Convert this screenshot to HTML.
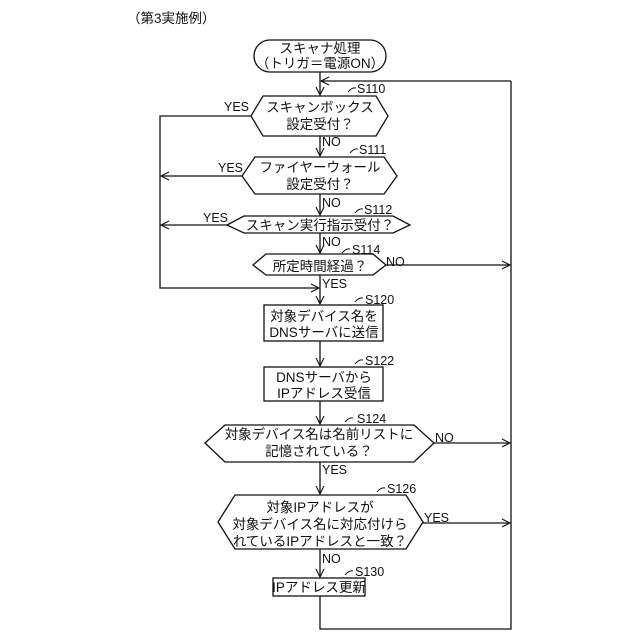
<!DOCTYPE html>
<html><head><meta charset="utf-8"><style>
html,body{margin:0;padding:0;background:#fff}
svg{display:block}
text{font-family:"Liberation Sans","Noto Sans CJK JP",sans-serif;font-size:13.5px;fill:#111}
.s{font-size:12.5px}
</style></head><body>
<svg width="640" height="640" viewBox="0 0 640 640" xmlns="http://www.w3.org/2000/svg">
<defs><marker id="a" markerWidth="10" markerHeight="10" refX="9" refY="5" orient="auto" markerUnits="userSpaceOnUse"><path d="M1,1 L9,5 L1,9" fill="none" stroke="#111" stroke-width="1.1"/></marker></defs>
<g fill="none" stroke="#111" stroke-width="1.3">
<rect x="254" y="40" width="132" height="32" rx="16"/>
<polygon points="251,116 263,96 376,96 388,116 376,136 263,136"/>
<polygon points="242,176 255,157 384,157 397,176 384,194 255,194"/>
<polygon points="227,225 244,216 393,216 410,225 393,233 244,233"/>
<polygon points="253,265 266,254 373,254 386,265 373,275 266,275"/>
<rect x="264" y="305" width="119" height="36"/>
<rect x="264" y="367" width="119" height="34"/>
<polygon points="205,443 225,425 414,425 434,443 414,462 225,462"/>
<polygon points="218,522 235,495 406,495 423,522 406,549 235,549"/>
<rect x="273" y="578" width="92" height="18"/>
<path d="M320,72V95" marker-end="url(#a)"/>
<path d="M511,81H321" marker-end="url(#a)"/>
<path d="M320,136V156" marker-end="url(#a)"/>
<path d="M320,194V215" marker-end="url(#a)"/>
<path d="M320,233V253" marker-end="url(#a)"/>
<path d="M320,275V304" marker-end="url(#a)"/>
<path d="M320,341V366" marker-end="url(#a)"/>
<path d="M320,401V424" marker-end="url(#a)"/>
<path d="M320,462V494" marker-end="url(#a)"/>
<path d="M320,549V577" marker-end="url(#a)"/>
<path d="M251,116H160V288H319" marker-end="url(#a)"/>
<path d="M242,176H161" marker-end="url(#a)"/>
<path d="M227,225H161" marker-end="url(#a)"/>
<path d="M386,265H510" marker-end="url(#a)"/>
<path d="M434,443H510" marker-end="url(#a)"/>
<path d="M423,523H510" marker-end="url(#a)"/>
<path d="M320,596V629H511V81"/>
<path d="M348,92q4,-5 8,-4" stroke-width="1"/>
<path d="M350,153q4,-5 8,-4" stroke-width="1"/>
<path d="M355,213q4,-5 8,-4" stroke-width="1"/>
<path d="M342,253q4,-5 8,-4" stroke-width="1"/>
<path d="M355,302q4,-5 8,-4" stroke-width="1"/>
<path d="M355,364q4,-5 8,-4" stroke-width="1"/>
<path d="M345,422q4,-5 8,-4" stroke-width="1"/>
<path d="M377,492q4,-5 8,-4" stroke-width="1"/>
<path d="M345,575q4,-5 8,-4" stroke-width="1"/>
</g>
<text x="127" y="23">（第3実施例）</text>
<text x="320" y="53" text-anchor="middle">スキャナ処理</text>
<text x="320" y="68" text-anchor="middle">（トリガ＝電源ON）</text>
<text x="320" y="112" text-anchor="middle">スキャンボックス</text>
<text x="320" y="129" text-anchor="middle">設定受付？</text>
<text x="320" y="172" text-anchor="middle">ファイヤーウォール</text>
<text x="320" y="189" text-anchor="middle">設定受付？</text>
<text x="320" y="230" text-anchor="middle">スキャン実行指示受付？</text>
<text x="320" y="271" text-anchor="middle">所定時間経過？</text>
<text x="324" y="321" text-anchor="middle">対象デバイス名を</text>
<text x="324" y="337" text-anchor="middle">DNSサーバに送信</text>
<text x="324" y="382" text-anchor="middle">DNSサーバから</text>
<text x="324" y="398" text-anchor="middle">IPアドレス受信</text>
<text x="319" y="439" text-anchor="middle">対象デバイス名は名前リストに</text>
<text x="319" y="456" text-anchor="middle">記憶されている？</text>
<text x="320" y="512" text-anchor="middle">対象IPアドレスが</text>
<text x="320" y="529" text-anchor="middle">対象デバイス名に対応付けら</text>
<text x="320" y="546" text-anchor="middle">れているIPアドレスと一致？</text>
<text x="319" y="592" text-anchor="middle">IPアドレス更新</text>
<g class="s">
<text x="357" y="93" class="s">S110</text>
<text x="359" y="154" class="s">S111</text>
<text x="364" y="214" class="s">S112</text>
<text x="352" y="254" class="s">S114</text>
<text x="365" y="304" class="s">S120</text>
<text x="365" y="365" class="s">S122</text>
<text x="357" y="423" class="s">S124</text>
<text x="387" y="493" class="s">S126</text>
<text x="355" y="576" class="s">S130</text>
<text x="224" y="111" class="s">YES</text>
<text x="218" y="172" class="s">YES</text>
<text x="203" y="222" class="s">YES</text>
<text x="322" y="146" class="s">NO</text>
<text x="322" y="207" class="s">NO</text>
<text x="322" y="246" class="s">NO</text>
<text x="386" y="266" class="s">NO</text>
<text x="322" y="288" class="s">YES</text>
<text x="435" y="442" class="s">NO</text>
<text x="322" y="474" class="s">YES</text>
<text x="424" y="522" class="s">YES</text>
<text x="322" y="563" class="s">NO</text>
</g>
</svg>
</body></html>
